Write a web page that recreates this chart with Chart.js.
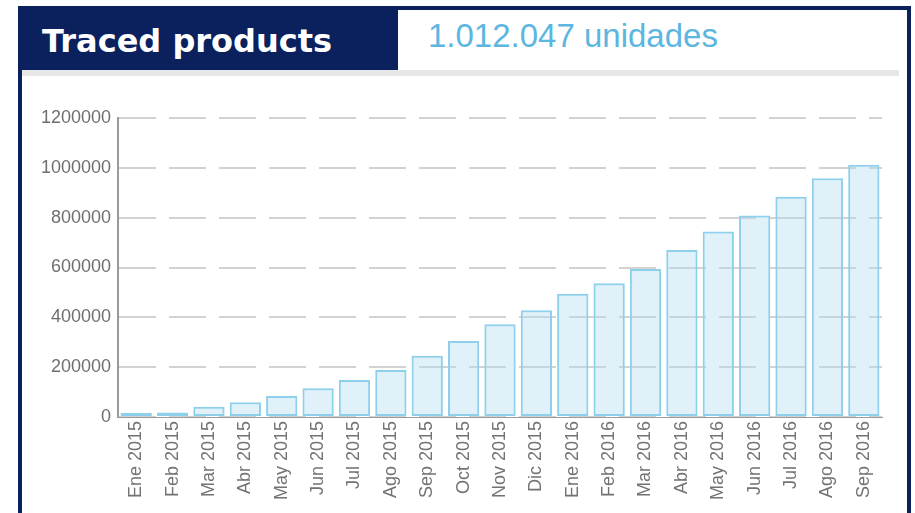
<!DOCTYPE html>
<html>
<head>
<meta charset="utf-8">
<script src="https://cdn.jsdelivr.net/npm/chart.js@4.4.1/dist/chart.umd.min.js"></script>
<style>
  html, body { margin: 0; padding: 0; background: #ffffff; width: 915px; height: 513px; overflow: hidden; }
  #frame { position: absolute; left: 18px; top: 6px; width: 893px; height: 530px; border: 4px solid #0a215e; box-sizing: border-box; background: #fff; }
  #titleBox { position: absolute; left: 18px; top: 6px; width: 380px; height: 64px; background: #0a215e; }
  #title { position: absolute; left: 42px; top: 25px; font-family: "DejaVu Sans", Verdana, sans-serif; font-weight: bold; font-size: 32px; line-height: 32px; color: #ffffff; white-space: nowrap; }
  #total { position: absolute; left: 428px; top: 19px; font-family: "Liberation Sans", Arial, sans-serif; font-size: 33px; line-height: 33px; color: #5cb6e0; white-space: nowrap; }
  #strip { position: absolute; left: 22px; top: 70px; width: 877px; height: 6px; background: #e7e7e7; }
  #chartWrap { position: absolute; left: 22px; top: 76px; width: 885px; height: 437px; }
</style>
</head>
<body>
<div id="frame"></div>
<div id="titleBox"></div>
<div id="title">Traced products</div>
<div id="total">1.012.047 unidades</div>
<div id="strip"></div>
<div id="chartWrap"><canvas id="c" width="885" height="437"></canvas></div>
<script>
const categories = ["Ene 2015","Feb 2015","Mar 2015","Abr 2015","May 2015","Jun 2015","Jul 2015","Ago 2015","Sep 2015","Oct 2015","Nov 2015","Dic 2015","Ene 2016","Feb 2016","Mar 2016","Abr 2016","May 2016","Jun 2016","Jul 2016","Ago 2016","Sep 2016"];
const tracedValues = [16000, 18000, 41000, 59000, 84000, 115000, 148000, 189000, 246000, 305000, 372000, 428000, 495000, 537000, 594000, 670000, 744000, 809000, 884000, 958000, 1012047];
const yTickLabels = ["0","200000","400000","600000","800000","1000000","1200000"];
const yMax = 1200000;
const yStep = 200000;

const FONT = "'Liberation Sans', Arial, sans-serif";

new Chart(document.getElementById('c'), {
  type: 'bar',
  data: {
    labels: categories,
    datasets: [{
      data: tracedValues,
      backgroundColor: 'rgba(177,220,240,0.4)',
      borderColor: '#8ed0ec',
      borderWidth: 2,
      borderSkipped: false,
      categoryPercentage: 1.0,
      barPercentage: 0.86
    }]
  },
  options: {
    responsive: false,
    animation: false,
    devicePixelRatio: 1,
    layout: { padding: { top: 42, right: 25, left: 0, bottom: 0 } },
    plugins: { legend: { display: false }, tooltip: { enabled: false } },
    scales: {
      x: {
        grid: { display: true, drawOnChartArea: false, drawTicks: false },
        border: { display: true, color: '#9a9a9a', width: 1 },
        ticks: {
          autoSkip: false, maxRotation: 90, minRotation: 90, padding: 4,
          color: '#737373', font: { family: FONT, size: 18 }
        },
        afterFit: s => { s.height = 96; }
      },
      y: {
        min: 0, max: yMax,
        grid: { color: '#d2d2d2', lineWidth: 2, drawTicks: false },
        border: { display: true, color: '#9a9a9a', width: 2, dash: [37, 13] },
        ticks: {
          stepSize: yStep, padding: 7, color: '#6f6f6f',
          font: { family: FONT, size: 18 },
          callback: (v, i) => yTickLabels[i]
        },
        afterFit: s => { s.width = 96; }
      }
    }
  }
});
</script>
</body>
</html>
